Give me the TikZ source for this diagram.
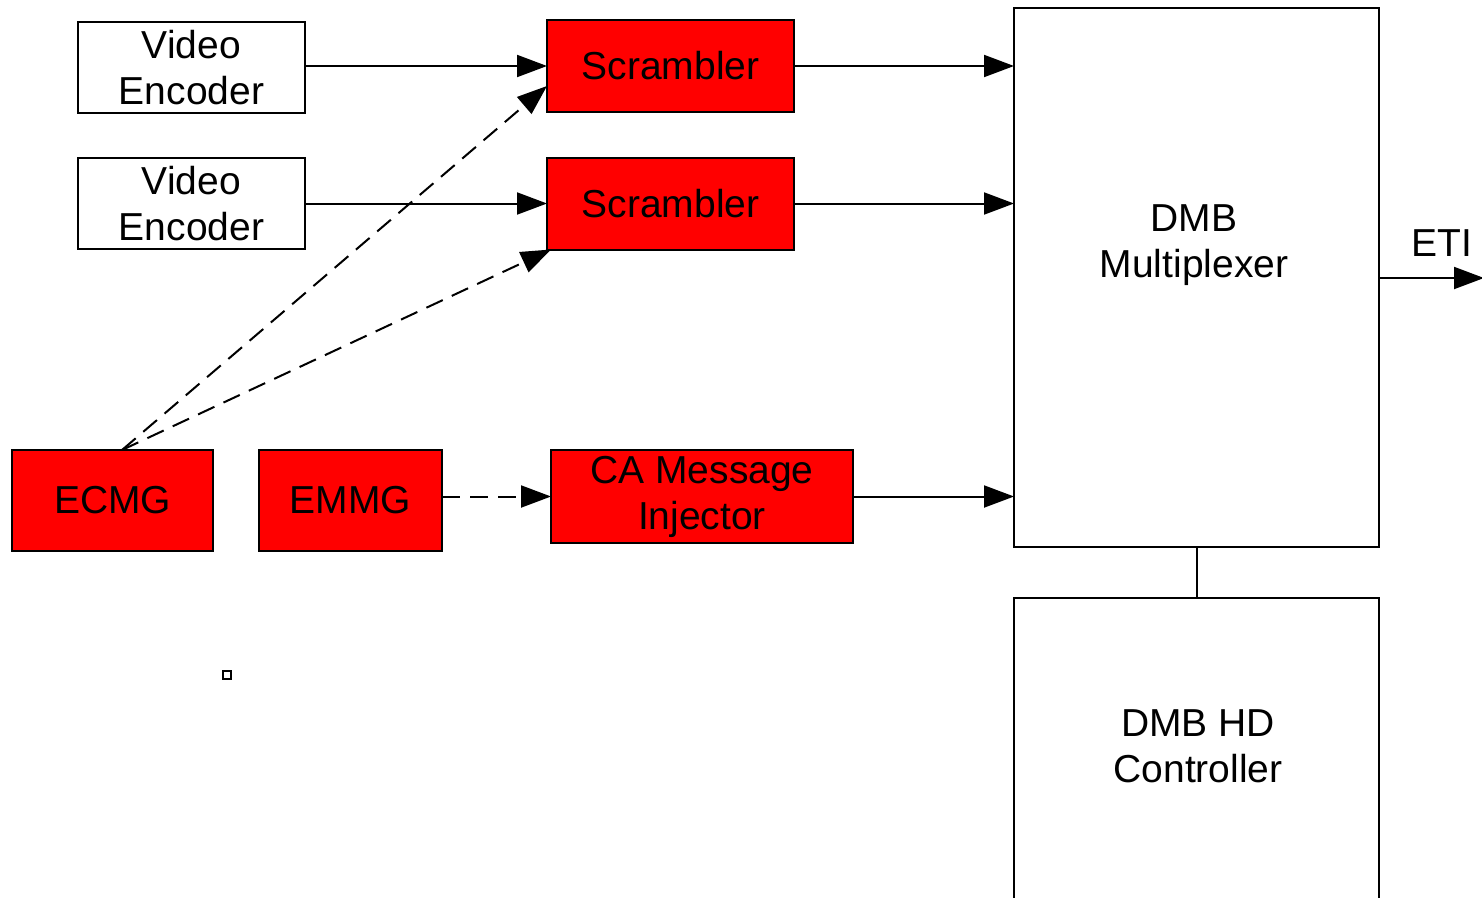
\documentclass[tikz,border=0pt]{standalone}
\usepackage{fontspec}
\setmainfont{Liberation Sans}
\usetikzlibrary{arrows.meta}
\begin{document}
\begin{tikzpicture}[x=1pt,y=-1pt,
  box/.style={draw=black, line width=2pt, inner sep=0pt, outer sep=0pt, align=center,
     font=\fontsize{39}{46}\selectfont},
  redbox/.style={box, fill=red},
  wbox/.style={box, fill=white},
  lbl/.style={font=\fontsize{39}{46}\selectfont, align=center},
  conn/.style={line width=2pt, -{Triangle[length=30pt,width=22pt]}},
  dconn/.style={conn, dash pattern=on 18pt off 10pt},
  plain/.style={line width=2pt}]
\useasboundingbox (0,0) rectangle (1482,897);
\node[wbox, minimum width=227, minimum height=91] (ve1) at (191.5,67.5) {Video\\Encoder};
\node[wbox, minimum width=227, minimum height=91] (ve2) at (191.5,203.5) {Video\\Encoder};
\node[redbox, minimum width=247, minimum height=92] (scr1) at (670.5,66) {Scrambler};
\node[redbox, minimum width=247, minimum height=92] (scr2) at (670.5,203.5) {Scrambler};
\node[redbox, minimum width=201, minimum height=101] (ecmg) at (112.5,500.5) {ECMG};
\node[redbox, minimum width=183, minimum height=101] (emmg) at (350.5,500.5) {EMMG};
\node[redbox, minimum width=302, minimum height=93] (ca) at (702,496.5) {CA Message\\Injector};
\node[wbox, minimum width=365, minimum height=539] (mux) at (1196.5,277.5) {};
\node[lbl] (muxt) at (1194,245) {DMB\\Multiplexer};
\begin{scope}
\clip (0,0) rectangle (1482,897);
\node[wbox, minimum width=365, minimum height=320] (ctrl) at (1196.5,758) {};
\end{scope}
\node[lbl] (ctrlt) at (1198,746) {DMB HD\\Controller};
\node[draw=black, line width=2pt, minimum width=8, minimum height=8, inner sep=0pt] (sq) at (226.5,674.5) {};
\coordinate (ecmgtop) at (122,450);
\coordinate (etiend) at (1484,278);
\node[lbl] (eti) at (1442,243) {ETI};

\draw[conn] (scr1.west -| ve1.east) -- (scr1.west);
\draw[conn] (scr2.west -| ve2.east) -- (scr2.west);
\draw[conn] (scr1.east) -- (scr1.east -| mux.west);
\draw[conn] (scr2.east) -- (scr2.east -| mux.west);
\draw[conn] (ca.east) -- (ca.east -| mux.west);
\draw[dconn] (ca.west -| emmg.east) -- (ca.west);
\draw[dconn] (ecmgtop) -- ([yshift=-20pt]scr1.west);
\draw[dconn] (ecmgtop) -- ([xshift=4pt]scr2.south west);
\draw[plain] (mux.south) -- (ctrl.north);
\draw[conn] (mux.east |- etiend) -- (etiend);
\end{tikzpicture}
\end{document}
